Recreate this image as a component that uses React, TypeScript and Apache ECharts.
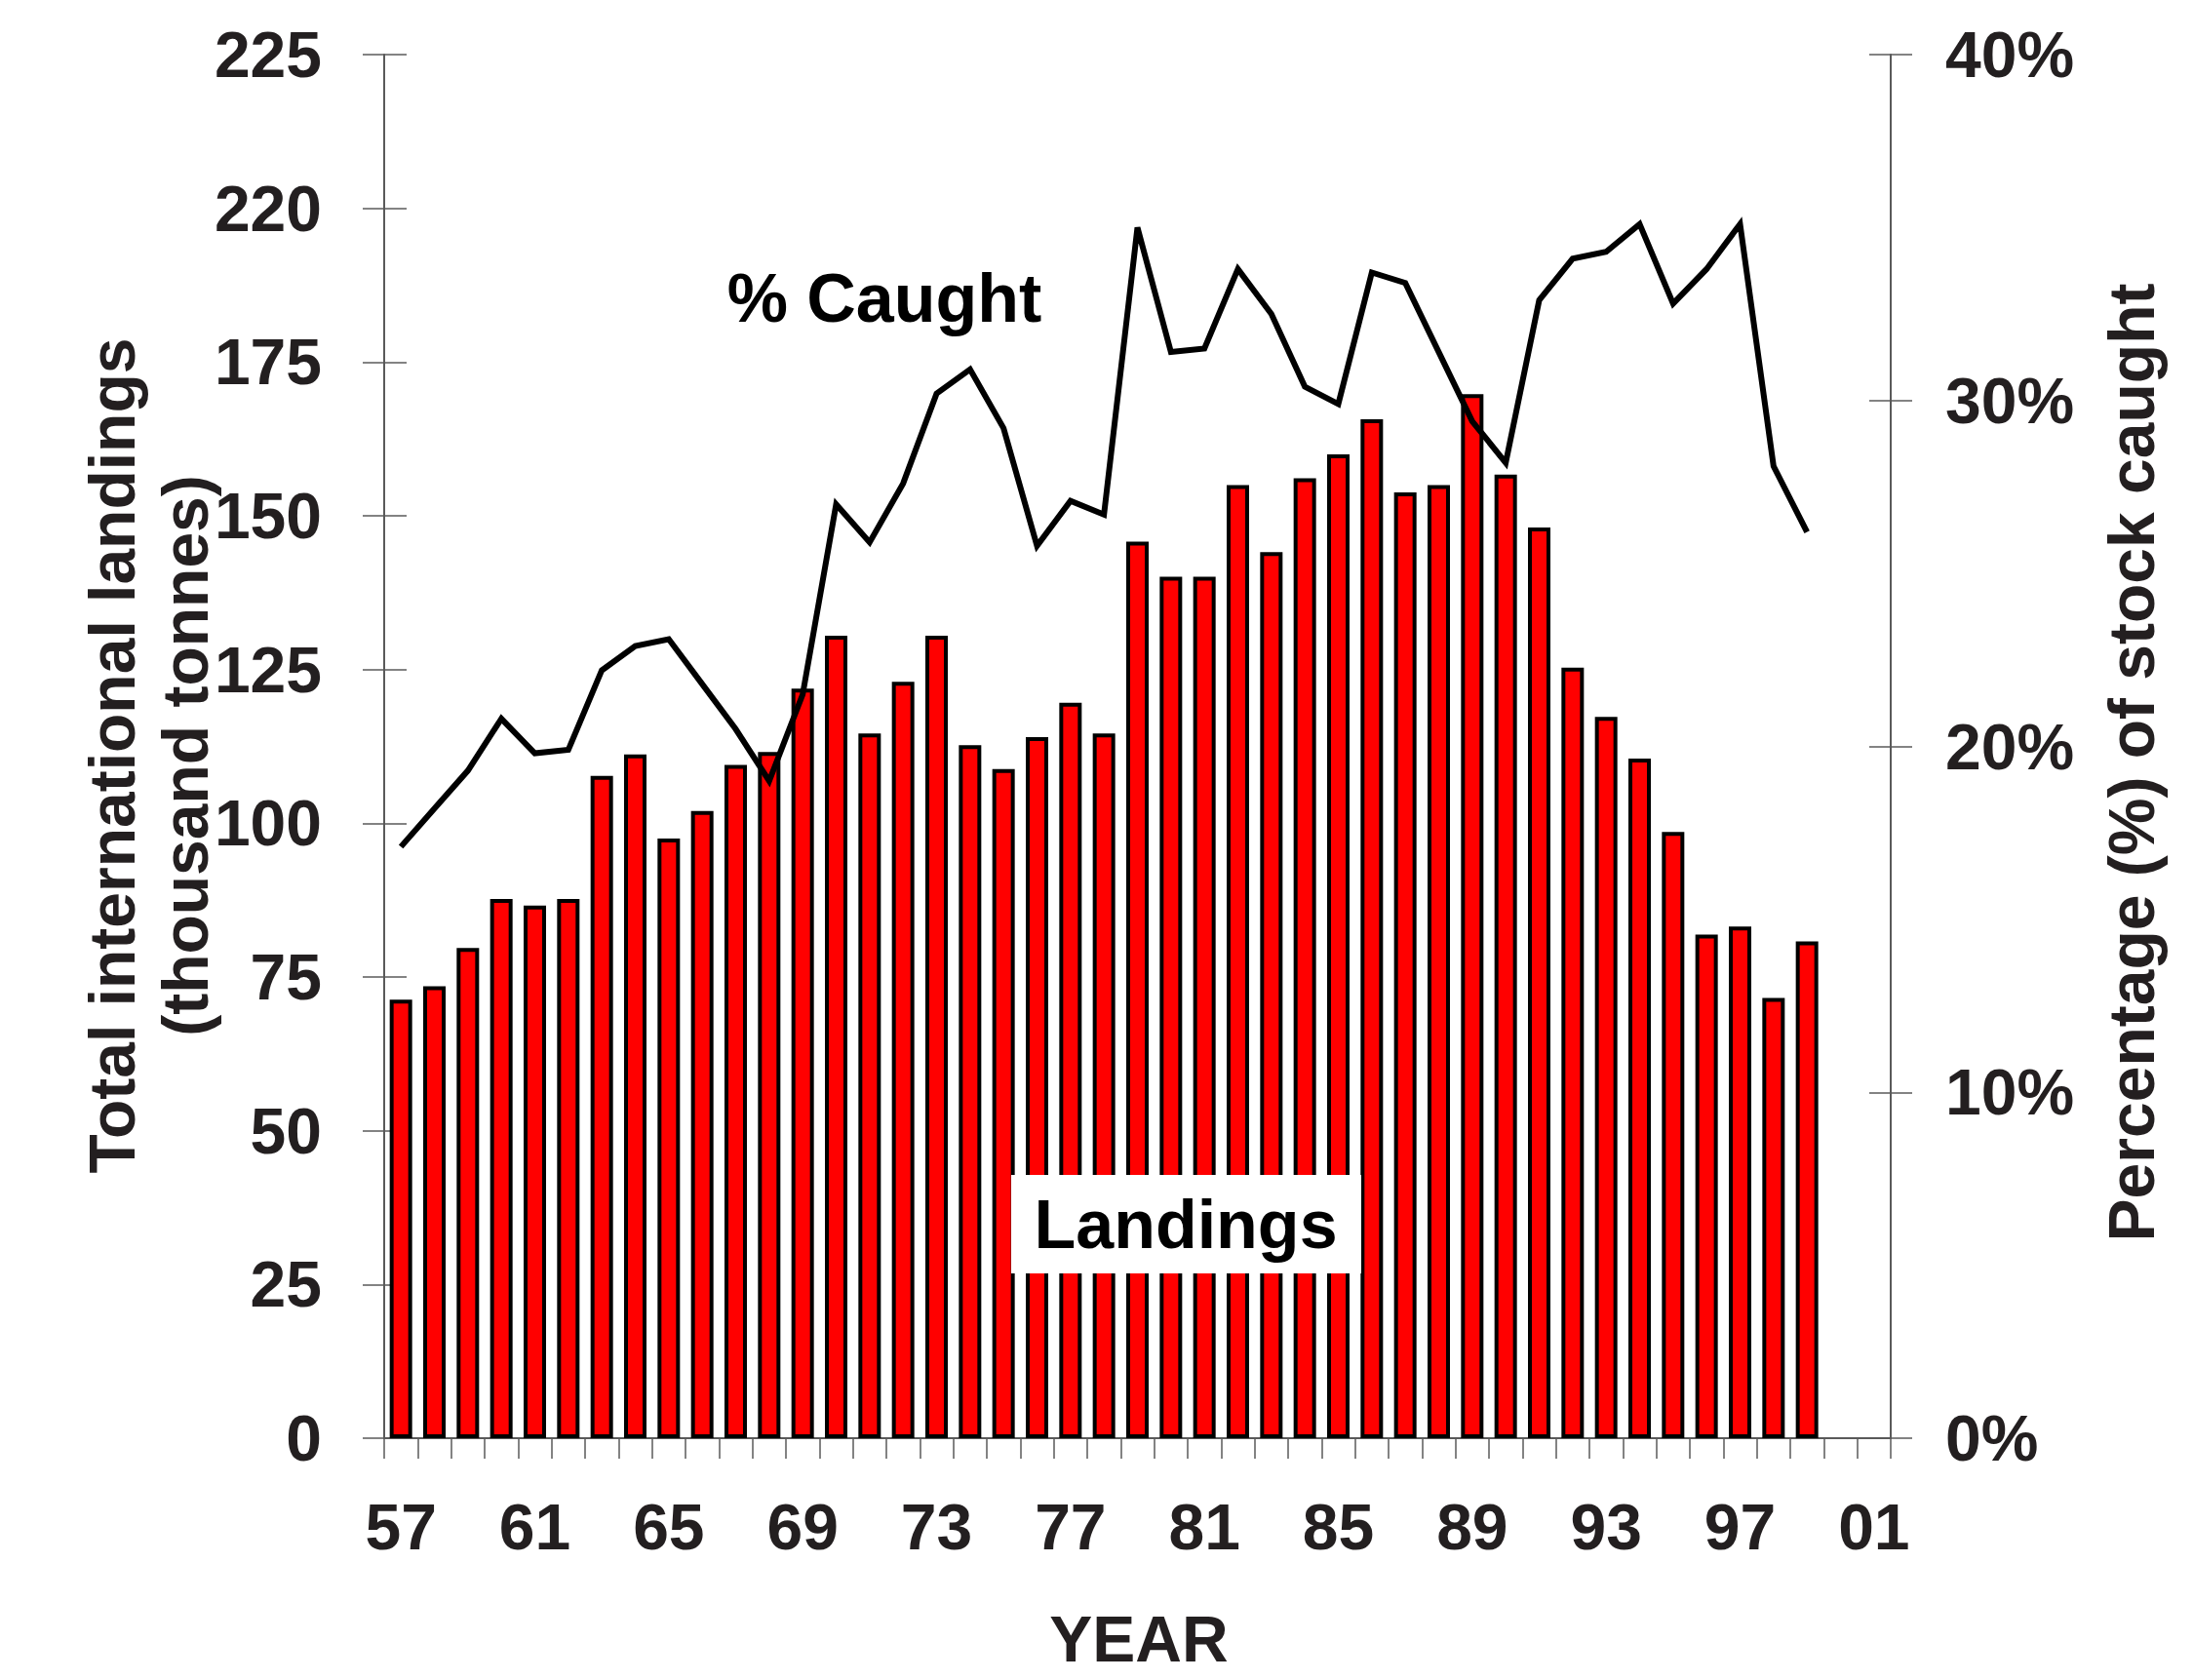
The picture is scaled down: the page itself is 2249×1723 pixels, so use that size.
import React, { useEffect, useRef } from "react";
import * as echarts from "echarts";

const years = [
  "57", "58", "59", "60", "61", "62", "63", "64", "65", "66", "67", "68", "69",
  "70", "71", "72", "73", "74", "75", "76", "77", "78", "79", "80", "81", "82",
  "83", "84", "85", "86", "87", "88", "89", "90", "91", "92", "93", "94", "95",
  "96", "97", "98", "99", "00", "01",
];

const landings = [
  71.3, 73.5, 79.7, 87.7, 86.6, 87.7, 107.7, 111.2, 97.5, 102, 109.5, 111.6, 121.9,
  130.5, 114.6, 123, 130.5, 112.7, 108.8, 114, 119.6, 114.6, 145.8, 140.1, 140.1, 155,
  144.1, 156.1, 160, 165.7, 153.8, 155, 169.8, 156.7, 148.1, 125.3, 117.3, 110.5, 98.6,
  81.9, 83.2, 71.6, 80.8, null, null,
];

const caught = [
  17.1, 18.2, 19.3, 20.8, 19.8, 19.9, 22.2, 22.9, 23.1, 21.8, 20.5, 19.0, 21.5,
  27.0, 25.9, 27.6, 30.2, 30.9, 29.2, 25.8, 27.1, 26.7, 35.0, 31.4, 31.5, 33.8,
  32.5, 30.4, 29.9, 33.7, 33.4, 31.4, 29.4, 28.2, 32.9, 34.1, 34.3, 35.1, 32.8,
  33.8, 35.1, 28.1, 26.2, null, null,
];

const leftTickLabels = ["0", "25", "50", "75", "100", "125", "150", "175", "220", "225"];
const rightTickLabels = ["0%", "10%", "20%", "30%", "40%"];

const FONT = "'Liberation Sans', Arial, Helvetica, sans-serif";
const TXT = "#231F20";
const AX = "#5a5a5a";

export default function App() {
  const ref = useRef<HTMLDivElement>(null);
  useEffect(() => {
    if (!ref.current) return;
    const chart = echarts.init(ref.current, undefined, { renderer: "svg" });
    const labelStyle = { fontFamily: FONT, fontWeight: "bold" as const, fontSize: 66, color: TXT };
    chart.setOption({
      animation: false,
      backgroundColor: "#ffffff",
      grid: { left: 394, right: 310, top: 56, bottom: 248, containLabel: false },
      xAxis: {
        type: "category",
        data: years,
        boundaryGap: true,
        axisLine: { show: true, lineStyle: { color: AX, width: 2 } },
        axisTick: { show: true, interval: 0, length: 21, lineStyle: { color: AX, width: 1.5 } },
        axisLabel: { ...labelStyle, interval: 3, margin: 58 },
        splitLine: { show: false },
      },
      yAxis: [
        {
          type: "value",
          position: "left",
          min: 0,
          max: 225,
          interval: 25,
          axisLine: { show: true, lineStyle: { color: AX, width: 2 } },
          axisTick: { show: true, length: 22, lineStyle: { color: AX, width: 1.5 } },
          axisLabel: {
            ...labelStyle,
            margin: 64,
            formatter: (v: number) => leftTickLabels[Math.round(v / 25)] ?? "",
          },
          splitLine: { show: false },
        },
        {
          type: "value",
          position: "right",
          min: 0,
          max: 40,
          interval: 10,
          axisLine: { show: true, lineStyle: { color: AX, width: 2 } },
          axisTick: { show: true, length: 22, lineStyle: { color: AX, width: 1.5 } },
          axisLabel: {
            ...labelStyle,
            margin: 56,
            formatter: (v: number) => rightTickLabels[Math.round(v / 10)] ?? "",
          },
          splitLine: { show: false },
        },
        {
          type: "value",
          position: "left",
          min: 0,
          max: 225,
          interval: 25,
          axisLine: { show: false },
          axisTick: { show: true, inside: true, length: 23, lineStyle: { color: AX, width: 1.5 } },
          axisLabel: { show: false },
          splitLine: { show: false },
        },
        {
          type: "value",
          position: "right",
          min: 0,
          max: 40,
          interval: 10,
          axisLine: { show: false },
          axisTick: { show: true, inside: true, length: 22, lineStyle: { color: AX, width: 1.5 } },
          axisLabel: { show: false },
          splitLine: { show: false },
        },
      ],
      series: [
        {
          name: "Landings",
          type: "bar",
          yAxisIndex: 0,
          data: landings,
          barWidth: 23,
          itemStyle: { color: "#ff0000", borderColor: "#000000", borderWidth: 4 },
          z: 2,
        },
        {
          name: "% Caught",
          type: "line",
          yAxisIndex: 1,
          data: caught,
          showSymbol: false,
          symbol: "none",
          connectNulls: false,
          lineStyle: { color: "#000000", width: 6, join: "miter" },
          z: 5,
        },
      ],
      graphic: [
        {
          type: "text",
          x: 115,
          y: 775,
          rotation: Math.PI / 2,
          style: {
            text: "Total international landings",
            fontFamily: FONT,
            fontWeight: "bold",
            fontSize: 66,
            fill: TXT,
            textAlign: "center",
            textVerticalAlign: "middle",
          },
        },
        {
          type: "text",
          x: 190,
          y: 775,
          rotation: Math.PI / 2,
          style: {
            text: "(thousand tonnes)",
            fontFamily: FONT,
            fontWeight: "bold",
            fontSize: 66,
            fill: TXT,
            textAlign: "center",
            textVerticalAlign: "middle",
          },
        },
        {
          type: "text",
          x: 2186,
          y: 782,
          rotation: Math.PI / 2,
          style: {
            text: "Percentage (%) of stock caught",
            fontFamily: FONT,
            fontWeight: "bold",
            fontSize: 66,
            fill: TXT,
            textAlign: "center",
            textVerticalAlign: "middle",
          },
        },
        {
          type: "text",
          x: 1168,
          y: 1681,
          style: {
            text: "YEAR",
            fontFamily: FONT,
            fontWeight: "bold",
            fontSize: 66,
            lineHeight: 48,
            fill: TXT,
            textAlign: "center",
            textVerticalAlign: "middle",
          },
        },
        {
          type: "text",
          x: 907,
          y: 306,
          z: 20,
          style: {
            text: "% Caught",
            fontFamily: FONT,
            fontWeight: "bold",
            fontSize: 70,
            fill: "#000000",
            textAlign: "center",
            textVerticalAlign: "middle",
          },
        },
        {
          type: "rect",
          z: 20,
          shape: { x: 1037, y: 1205, width: 359, height: 101 },
          style: { fill: "#ffffff" },
        },
        {
          type: "text",
          x: 1216,
          y: 1256,
          z: 21,
          style: {
            text: "Landings",
            fontFamily: FONT,
            fontWeight: "bold",
            fontSize: 70,
            fill: "#000000",
            textAlign: "center",
            textVerticalAlign: "middle",
          },
        },
      ],
    });
    return () => chart.dispose();
  }, []);
  return (
    <div
      ref={ref}
      style={{ position: "absolute", left: 0, top: 0, width: 2249, height: 1723, background: "#fff" }}
    />
  );
}
